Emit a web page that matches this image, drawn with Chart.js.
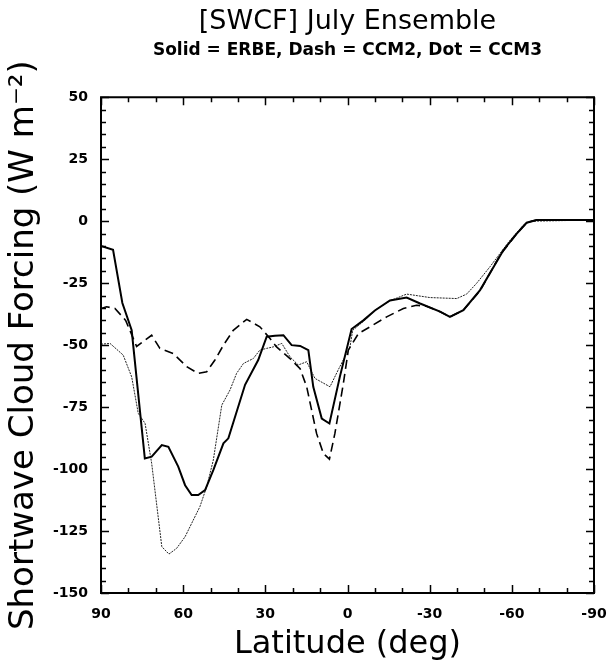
<!DOCTYPE html>
<html>
<head>
<meta charset="utf-8">
<script src="https://cdn.jsdelivr.net/npm/chart.js@4.4.1/dist/chart.umd.min.js"></script>
<style>
  html, body { margin: 0; padding: 0; background: #fff; }
  #wrap { width: 611px; height: 667px; }
</style>
</head>
<body>
<div id="wrap"><canvas id="swcfChart" width="611" height="667"></canvas></div>
<script>
// latitudes (deg) and SWCF values (W m-2)
const erbeLat = [90, 85.6, 82.2, 78.8, 74, 71.5, 67.8, 65.4, 61.8, 59.3, 56.9, 54.5, 52, 49, 45.3, 43.5, 37.4, 32.6, 29.5, 26.5, 23.4, 20.4, 17.3, 14.3, 12.5, 9.4, 6.6, 2.8, -1.5, -5.8, -10, -15.5, -21.6, -26.5, -33.8, -37.4, -42.3, -48.4, -56.9, -61.8, -65.4, -69, -90];
const erbeSwcf = [-10, -11.5, -33, -44, -95.7, -95, -90.3, -91, -99, -106.5, -110.5, -110.5, -108.5, -100.4, -89.6, -87.6, -66, -56, -46.6, -46.2, -46, -50, -50.3, -52, -66.8, -79.6, -81.6, -62.8, -43.5, -40, -36, -32, -30.8, -33.2, -36.5, -38.6, -35.9, -27.8, -11.7, -5, -0.6, 0.5, 0.5];

const ccm2Lat = [90, 88, 84.9, 81, 77, 71.5, 68.5, 63.6, 58.7, 54.5, 51.4, 48.4, 45.3, 41.7, 36.8, 32, 28.3, 25.9, 21, 17.3, 14.9, 11.3, 8.8, 6.6, 4.6, 1.5, -0.3, -4, -8.2, -14.3, -20.4, -25.2, -28.9, -33.8, -37.4, -42.3, -48.4, -55.7, -61.8, -65.4, -69, -90];
const ccm2Swcf = [-35.2, -34.5, -35.2, -40, -50.5, -46, -51.3, -53.4, -58.7, -61.4, -60.7, -56, -50, -44, -39.6, -42.6, -47.3, -50.7, -55.4, -59.5, -66.8, -85.6, -93.7, -96, -85.6, -65.4, -52, -45.3, -42.6, -38.6, -35.2, -33.9, -34.3, -36.5, -38.6, -35.9, -28, -13.7, -5, -0.6, 0.5, 0.5];

const ccm3Lat = [90, 86.7, 81.9, 78.8, 76.4, 73.9, 71.5, 67.8, 65.2, 62.4, 59.3, 56.9, 53.9, 51.4, 49, 45.9, 42.9, 40.5, 38, 34.4, 32, 29.5, 27.1, 24, 21, 18, 14.9, 11.9, 6.4, 3.4, -0.9, -1.9, -7, -10, -15.5, -21.6, -30.1, -39.9, -43.5, -47.1, -52, -59.3, -64.2, -67, -90];
const ccm3Swcf = [-49.6, -49.3, -54, -62.8, -77.5, -81.6, -97.7, -131.3, -134.3, -132, -127.3, -121.9, -115.2, -107.1, -96.4, -74.2, -68.1, -61.4, -57.4, -55.4, -52, -51.3, -50.7, -49.3, -54.7, -58, -56.7, -63.4, -66.8, -60, -50.7, -44, -39.3, -35.9, -32.1, -29.4, -30.8, -31.2, -29.4, -25.1, -18.4, -7.7, -1.6, 0, 0.5];

const xTicks = [90, 60, 30, 0, -30, -60, -90];
const yTicks = [50, 25, 0, -25, -50, -75, -100, -125, -150];

function toPoints(lats, vals) {
  return lats.map((lat, i) => ({ x: lat, y: vals[i] }));
}

// box round the plot with inward ticks on all four sides
const frameTicks = {
  id: 'frameTicks',
  afterDatasetsDraw(chart) {
    const c = chart.ctx;
    const a = chart.chartArea;
    const sx = chart.scales.x;
    const sy = chart.scales.y;
    c.save();
    c.setLineDash([]);
    c.strokeStyle = '#000';
    c.lineWidth = 1.5;
    c.beginPath();
    for (let v = -90; v <= 90; v += 10) {
      const px = Math.round(sx.getPixelForValue(v)) + 0.5;
      const len = Math.abs(v) % 30 === 0 ? 8 : 5;
      c.moveTo(px, a.bottom);
      c.lineTo(px, a.bottom - len);
      c.moveTo(px, a.top);
      c.lineTo(px, a.top + len);
    }
    for (let v = -150; v <= 50; v += 5) {
      const py = Math.round(sy.getPixelForValue(v)) + 0.5;
      const len = Math.abs(v) % 25 === 0 ? 8 : 5;
      c.moveTo(a.left, py);
      c.lineTo(a.left + len, py);
      c.moveTo(a.right, py);
      c.lineTo(a.right - len, py);
    }
    c.stroke();
    c.lineWidth = 2;
    c.beginPath();
    c.rect(a.left, a.top, a.right - a.left, a.bottom - a.top);
    c.stroke();
    c.restore();
  }
};

const ctx = document.getElementById('swcfChart').getContext('2d');

new Chart(ctx, {
  type: 'scatter',
  data: {
    datasets: [
      {
        label: 'ERBE',
        data: toPoints(erbeLat, erbeSwcf),
        showLine: true,
        borderColor: '#000',
        borderWidth: 2,
        pointRadius: 0,
        tension: 0
      },
      {
        label: 'CCM2',
        data: toPoints(ccm2Lat, ccm2Swcf),
        showLine: true,
        borderColor: '#000',
        borderWidth: 1.6,
        borderDash: [9, 5],
        pointRadius: 0,
        tension: 0
      },
      {
        label: 'CCM3',
        data: toPoints(ccm3Lat, ccm3Swcf),
        showLine: true,
        borderColor: '#222',
        borderWidth: 1,
        borderDash: [2, 1],
        pointRadius: 0,
        tension: 0
      }
    ]
  },
  options: {
    responsive: false,
    animation: false,
    layout: { padding: { left: 0, right: 17, top: 0, bottom: 0 } },
    plugins: {
      legend: { display: false },
      tooltip: { enabled: false },
      title: {
        display: true,
        text: '[SWCF] July Ensemble',
        fullSize: false,
        color: '#000',
        font: { family: 'DejaVu Sans', size: 27, weight: 'normal' },
        padding: { top: 6, bottom: 2 }
      },
      subtitle: {
        display: true,
        text: 'Solid = ERBE, Dash = CCM2, Dot = CCM3',
        fullSize: false,
        color: '#000',
        font: { family: 'DejaVu Sans', size: 17, weight: 'bold' },
        padding: { top: 0, bottom: 36.5 }
      }
    },
    scales: {
      x: {
        type: 'linear',
        reverse: true,
        min: -90,
        max: 90,
        afterFit: (s) => { s.height = 74; s.paddingRight = 17; s.paddingLeft = 0; },
        afterBuildTicks: (s) => { s.ticks = xTicks.map(v => ({ value: v })); },
        grid: { display: false, drawTicks: false },
        border: { display: false },
        ticks: {
          color: '#000',
          padding: 13,
          maxRotation: 0,
          autoSkip: false,
          font: { family: 'DejaVu Sans', size: 14, weight: 'bold' }
        },
        title: {
          display: true,
          text: 'Latitude (deg)',
          color: '#000',
          font: { family: 'DejaVu Sans', size: 32, weight: 'normal' },
          padding: { top: 0, bottom: 3 }
        }
      },
      y: {
        min: -150,
        max: 50,
        afterFit: (s) => { s.width = 101; },
        afterBuildTicks: (s) => { s.ticks = yTicks.map(v => ({ value: v })); },
        grid: { display: false, drawTicks: false },
        border: { display: false },
        ticks: {
          color: '#000',
          padding: 13,
          autoSkip: false,
          font: { family: 'DejaVu Sans', size: 14, weight: 'bold' }
        },
        title: {
          display: true,
          text: 'Shortwave Cloud Forcing (W m\u207B\u00B2)',
          color: '#000',
          font: { family: 'DejaVu Sans', size: 34, weight: 'normal' },
          padding: { top: 4, bottom: 0 }
        }
      }
    }
  },
  plugins: [frameTicks]
});
</script>
</body>
</html>
